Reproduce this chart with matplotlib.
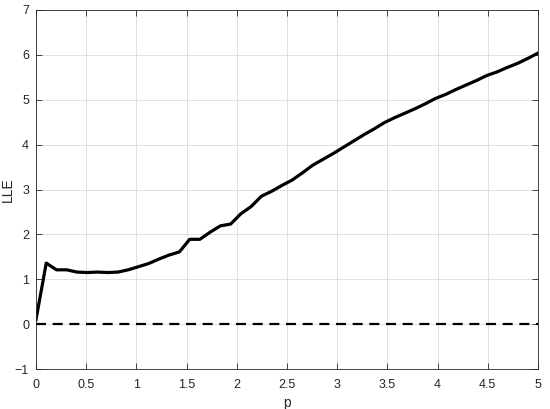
import numpy as np
import matplotlib
matplotlib.use("Agg")
import matplotlib.pyplot as plt

plt.rcParams['font.family'] = ['Liberation Sans', 'DejaVu Sans']

# sampled parameter p (50 evenly spaced points on [0, 5])
p = np.linspace(0, 5, 50)
lle = [0.10, 1.36, 1.21, 1.21, 1.16, 1.15, 1.16, 1.15, 1.16, 1.21,
       1.28, 1.35, 1.45, 1.54, 1.61, 1.89, 1.89, 2.05, 2.19, 2.23,
       2.46, 2.62, 2.85, 2.96, 3.09, 3.21, 3.37, 3.54, 3.67, 3.80,
       3.94, 4.08, 4.22, 4.35, 4.49, 4.60, 4.70, 4.80, 4.91, 5.03,
       5.12, 5.23, 5.33, 5.43, 5.54, 5.62, 5.72, 5.81, 5.92, 6.04]
zero_level = 0.0

xticks = [0, 0.5, 1, 1.5, 2, 2.5, 3, 3.5, 4, 4.5, 5]
xticklabels = ['0', '0.5', '1', '1.5', '2', '2.5', '3', '3.5', '4', '4.5', '5']
yticks = [-1, 0, 1, 2, 3, 4, 5, 6, 7]

fig = plt.figure(figsize=(5.5, 4.09), dpi=100)
ax = fig.add_axes([36 / 550, 40 / 409, 502 / 550, 359 / 409])

ax.plot(p, lle, color='black', linewidth=2.3)
ax.axhline(zero_level, color='black', linewidth=1.6, linestyle=(0, (4.5, 3)))

ax.set_xlim(0, 5)
ax.set_ylim(-1, 7)
ax.set_xticks(xticks)
ax.set_xticklabels(xticklabels)
ax.set_yticks(yticks)

ax.grid(True, color='#dcdcdc', linewidth=0.6)
ax.set_axisbelow(True)
for s in ax.spines.values():
    s.set_color('#262626')
    s.set_linewidth(0.6)
ax.tick_params(direction='in', top=True, right=True, length=4, width=0.6,
               colors='#262626', labelsize=9)
ax.tick_params(axis='x', pad=7)
ax.tick_params(axis='y', pad=5)

ax.set_xlabel('p', fontsize=10, color='#262626')
ax.xaxis.set_label_coords(0.5, -0.075)
ax.set_ylabel('LLE', fontsize=10, color='#262626')
ax.yaxis.set_label_coords(-0.042, 0.5)

fig.savefig('out.png', dpi=100)
